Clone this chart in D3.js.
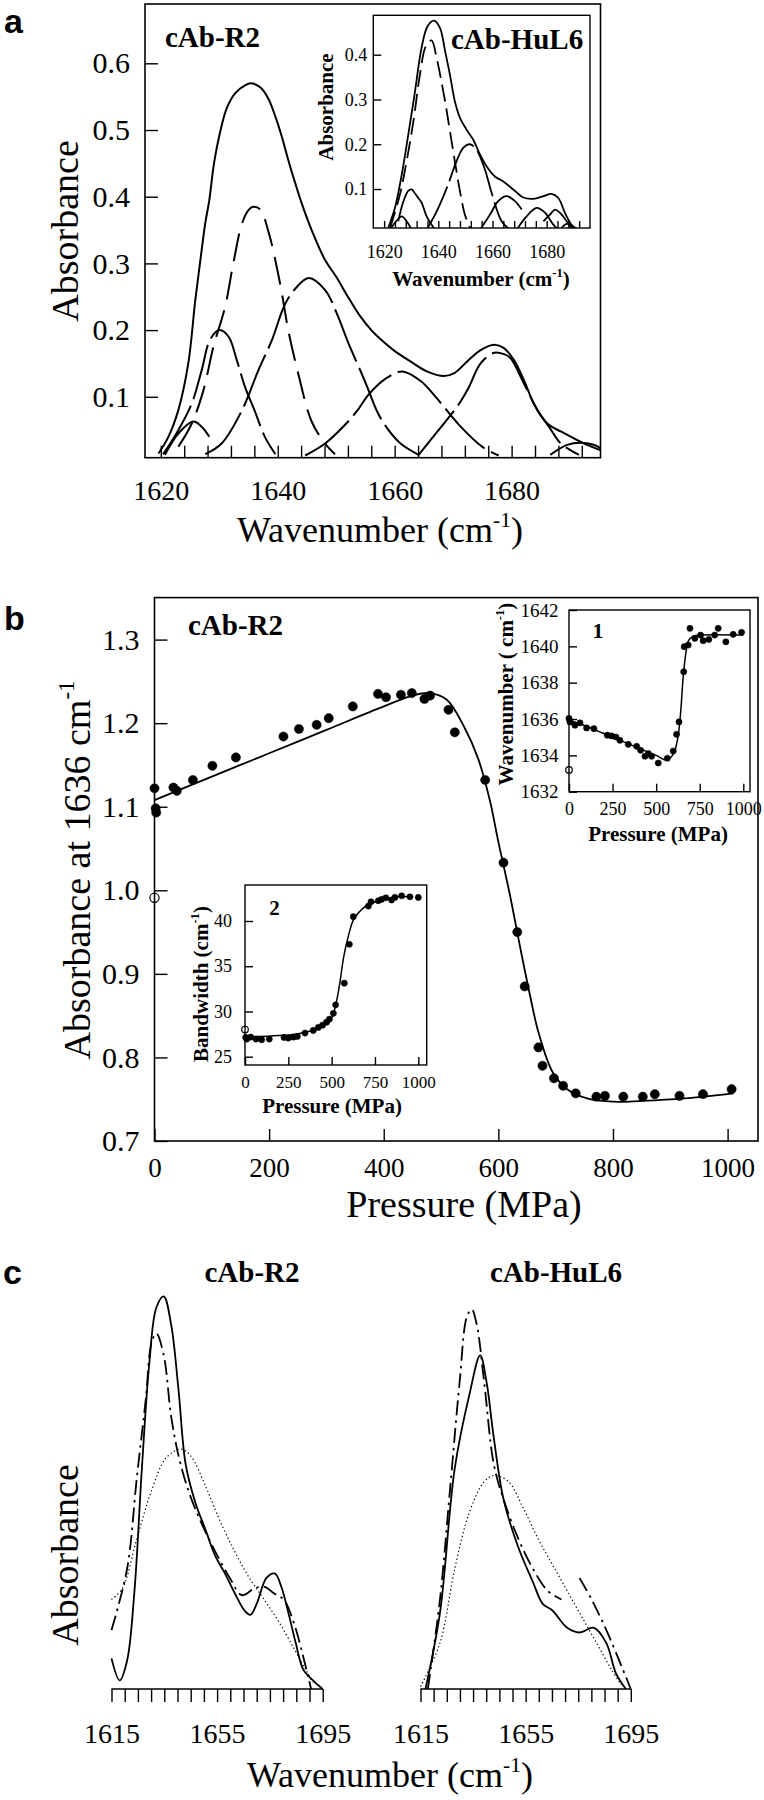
<!DOCTYPE html>
<html>
<head>
<meta charset="utf-8">
<script src="https://cdn.jsdelivr.net/npm/d3@7"></script>
<style>
  body { margin: 0; background: #fff; }
  text { font-family: "Liberation Serif", "Times New Roman", serif; fill: #000; }
</style>
</head>
<body>
<svg id="fig" width="764" height="1800"></svg>
<script>
// ---------- panel a : band fitting of cAb-R2 (main) and cAb-HuL6 (inset) ----------
var aTickLabels = [1620, 1640, 1660, 1680];
var aYTicks = [0.1, 0.2, 0.3, 0.4, 0.5, 0.6];
var aEnvelope = [[1619.6,0.015],[1621.3,0.040],[1623.0,0.080],[1624.7,0.150],[1625.9,0.245],[1626.7,0.300],
  [1627.6,0.360],[1628.3,0.395],[1629.1,0.450],[1630.1,0.495],[1631.3,0.533],[1632.7,0.555],[1634.4,0.567],
  [1635.45,0.570],[1637.0,0.564],[1638.4,0.547],[1639.6,0.520],[1640.7,0.490],[1641.8,0.455],[1643.0,0.420],
  [1644.1,0.390],[1645.8,0.350],[1648.1,0.305],[1650.0,0.280],[1652.0,0.250],[1654.0,0.222],[1656.0,0.200],
  [1657.5,0.187],[1659.8,0.170],[1662.7,0.153],[1665.5,0.138],[1668.4,0.131],[1670.1,0.135],[1672.4,0.153],
  [1674.7,0.170],[1677.0,0.178],[1678.7,0.173],[1680.4,0.155],[1682.1,0.125],[1683.8,0.090],[1686.1,0.060],
  [1688.4,0.048],[1690.6,0.038],[1692.9,0.028],[1695.2,0.020]];
var aBand1 = [[1620.7,0.013],[1623.0,0.045],[1625.6,0.063],[1627.0,0.055],[1628.3,0.040]];
var aBand2 = [[1620.4,0.014],[1623.0,0.050],[1625.3,0.090],[1627.0,0.140],[1628.4,0.185],[1630.0,0.200],
  [1631.6,0.190],[1633.0,0.155],[1634.4,0.115],[1636.1,0.078],[1637.8,0.040],[1639.6,0.014]];
var aBand3 = [[1623.0,0.025],[1625.3,0.060],[1627.3,0.110],[1629.0,0.175],[1631.0,0.235],[1632.4,0.300],
  [1633.9,0.360],[1635.0,0.380],[1635.8,0.385],[1637.0,0.381],[1638.4,0.348],[1640.4,0.270],[1641.8,0.200],
  [1643.5,0.135],[1645.8,0.063],[1648.1,0.030],[1649.8,0.014]];
var aBand4 = [[1627.6,0.014],[1630.4,0.030],[1633.9,0.080],[1636.7,0.140],[1639.0,0.185],[1641.3,0.240],
  [1643.3,0.265],[1645.3,0.278],[1648.1,0.260],[1650.1,0.225],[1652.1,0.180],[1654.1,0.140],[1655.3,0.115],
  [1657.0,0.078],[1658.7,0.053],[1661.0,0.030],[1664.1,0.013]];
var aBand5 = [[1644.7,0.012],[1648.1,0.030],[1651.5,0.058],[1653.5,0.078],[1655.5,0.103],[1658.4,0.127],
  [1661.3,0.138],[1664.4,0.124],[1667.0,0.100],[1671.0,0.058],[1675.0,0.025],[1677.8,0.012]];
var aBand6 = [[1664.1,0.013],[1667.5,0.050],[1670.9,0.088],[1672.6,0.113],[1674.7,0.150],[1677.0,0.166],
  [1678.7,0.164],[1679.8,0.158],[1682.1,0.120],[1684.4,0.080],[1686.4,0.055],[1688.4,0.030],[1691.5,0.013]];
var aBand7 = [[1686.6,0.013],[1689.5,0.028],[1691.8,0.031],[1694.0,0.028],[1695.2,0.023]];

var insTickLabels = [1620, 1640, 1660, 1680];
var insYTicks = [0.1, 0.2, 0.3, 0.4];
var insEnvelope = [[1621.5,0.013],[1624.0,0.058],[1626.5,0.132],[1628.9,0.221],[1631.4,0.318],[1633.8,0.415],
  [1636.0,0.463],[1638.4,0.476],[1640.6,0.460],[1642.5,0.408],[1644.3,0.355],[1646.1,0.296],[1648.0,0.259],
  [1650.5,0.232],[1652.9,0.210],[1655.4,0.177],[1657.8,0.151],[1660.9,0.128],[1664.0,0.117],[1667.7,0.099],
  [1671.4,0.081],[1675.1,0.078],[1678.8,0.084],[1681.8,0.089],[1684.3,0.080],[1686.8,0.046],[1689.2,0.020],
  [1691.1,0.011]];
var insBandA = [[1622.2,0.013],[1625.8,0.087],[1628.3,0.162],[1630.8,0.251],[1633.2,0.355],[1635.4,0.419],
  [1637.5,0.432],[1639.4,0.392],[1640.9,0.348],[1642.5,0.296],[1644.3,0.229],[1646.1,0.162],[1648.0,0.095],
  [1649.8,0.043],[1651.7,0.013]];
var insBandB = [[1635.7,0.009],[1639.4,0.050],[1643.1,0.102],[1647.0,0.166],[1649.2,0.192],[1651.7,0.200],
  [1654.1,0.188],[1656.6,0.154],[1657.8,0.132],[1659.7,0.091],[1663.4,0.028],[1666.4,0.009]];
var insBandC = [[1625.2,0.028],[1627.1,0.072],[1628.9,0.096],[1630.2,0.099],[1630.8,0.095],[1632.6,0.080],
  [1633.8,0.070],[1635.7,0.039],[1638.8,0.009]];
var insBandD = [[1622.2,0.009],[1623.4,0.020],[1626.5,0.039],[1628.3,0.028],[1630.2,0.009]];
var insBandE = [[1655.4,0.009],[1659.1,0.043],[1662.1,0.073],[1665.2,0.084],[1668.3,0.073],[1670.8,0.054]];
var insBandF = [[1668.9,0.009],[1672.6,0.039],[1676.3,0.058],[1679.4,0.047],[1682.4,0.021],[1684.3,0.009]];
var insBandG = [[1678.8,0.028],[1681.2,0.043],[1683.1,0.054],[1684.9,0.047],[1687.4,0.028],[1689.8,0.009]];
var insBandH = [[1685.5,0.013],[1687.4,0.022],[1689.2,0.017],[1691.1,0.009]];

// ---------- panel b : absorbance at 1636 cm-1 vs pressure ----------
var bXTicks = [0, 200, 400, 600, 800, 1000];
var bYTicks = [0.7, 0.8, 0.9, 1.0, 1.1, 1.2, 1.3];
var bDots = [[0,1.122],[2,1.098],[3,1.093],[33,1.123],[39,1.119],[67,1.132],[101,1.149],[142,1.159],
  [225,1.184],[252,1.193],[283,1.198],[304,1.206],[346,1.220],[390,1.235],[404,1.231],[430,1.234],
  [449,1.236],[471,1.229],[481,1.233],[513,1.216],[524,1.189],[577,1.132],[609,1.033],[633,0.950],
  [646,0.885],[670,0.812],[677,0.790],[697,0.775],[713,0.766],[735,0.757],[771,0.753],[786,0.754],
  [818,0.753],[852,0.753],[873,0.756],[916,0.754],[957,0.756],[1007,0.762]];
var bOpen = [[0,0.991]];
var bFit = [[0,1.108],[100,1.136],[200,1.164],[300,1.192],[400,1.220],[450,1.233],[480,1.236],[510,1.228],
  [540,1.196],[565,1.157],[585,1.108],[600,1.058],[620,0.995],[640,0.925],[655,0.875],[670,0.830],
  [695,0.782],[720,0.762],[755,0.751],[800,0.747],[850,0.748],[925,0.751],[1010,0.757]];

// inset 1 : band position
var i1XTicks = [0, 250, 500, 750, 1000];
var i1YTicks = [1632, 1634, 1636, 1638, 1640, 1642];
var i1Dots = [[0,1636.03],[5,1635.84],[34,1635.66],[63,1635.79],[101,1635.51],[143,1635.47],[220,1635.11],
  [244,1635.07],[269,1635.01],[292,1634.83],[340,1634.61],[388,1634.50],[411,1634.28],[436,1633.95],
  [455,1634.10],[474,1633.95],[512,1633.58],[564,1633.84],[598,1634.24],[617,1635.16],[631,1635.84],
  [658,1638.60],[661,1639.98],[684,1640.07],[694,1640.99],[722,1640.44],[755,1640.62],[770,1640.31],
  [802,1640.38],[836,1640.62],[856,1640.99],[900,1640.25],[942,1640.66],[990,1640.77]];
var i1Open = [[0,1633.2]];
var i1Fit = [[0,1635.95],[100,1635.6],[200,1635.2],[300,1634.8],[400,1634.4],[500,1634.0],[560,1633.75],
  [600,1634.1],[625,1635.0],[640,1636.3],[655,1638.3],[670,1639.6],[685,1640.3],[710,1640.55],
  [750,1640.62],[1000,1640.62]];

// inset 2 : bandwidth
var i2XTicks = [0, 250, 500, 750, 1000];
var i2YTicks = [25, 30, 35, 40];
var i2Dots = [[4,27.13],[10,26.95],[33,27.17],[63,26.95],[96,26.88],[140,26.95],[225,27.13],[250,27.06],
  [279,27.17],[302,27.24],[346,27.61],[394,27.90],[423,28.24],[448,28.49],[471,28.82],[487,29.15],
  [510,29.80],[523,30.73],[573,33.13],[602,37.43],[625,40.48],[712,41.65],[727,42.13],[769,42.24],
  [788,42.39],[813,42.57],[846,42.32],[865,42.61],[904,42.79],[952,42.68],[1000,42.61]];
var i2Open = [[0,28.0]];
var i2Fit = [[0,27.2],[150,27.3],[300,27.5],[450,28.35],[500,29.3],[530,31.3],[550,33.5],[570,36.1],
  [600,38.6],[625,40.1],[680,41.4],[750,42.1],[850,42.6],[950,42.7]];

// ---------- panel c : deconvolved spectra ----------
var cTickLabels = [1615, 1655, 1695];
var cR2Solid = [[1615,0.078],[1618.1,0.022],[1620.9,0.072],[1623.7,0.25],[1626.5,0.561],[1629.3,0.828],
  [1632.0,0.972],[1634.8,1.0],[1637.6,0.928],[1640.4,0.761],[1643.1,0.572],[1646.9,0.472],[1650.6,0.406],
  [1654.3,0.339],[1658.0,0.294],[1661.7,0.244],[1665.4,0.200],[1667.6,0.189],[1670.0,0.217],[1673.7,0.283],
  [1676.9,0.294],[1679.3,0.261],[1682.0,0.194],[1684.8,0.117],[1687.6,0.050],[1691.3,0.022],[1695,0.0]];
var cR2DashDot = [[1615,0.150],[1620.9,0.306],[1624.6,0.539],[1628.0,0.739],[1630.2,0.883],[1632.0,0.906],
  [1634.8,0.850],[1637.6,0.694],[1640.4,0.594],[1644.1,0.506],[1648.7,0.428],[1654.3,0.350],[1659.8,0.283],
  [1664.4,0.239],[1669.1,0.256],[1672.8,0.261],[1676.5,0.244],[1680.2,0.228],[1683.9,0.172],[1687.6,0.083],
  [1690.6,0.0]];
var cR2Dotted = [[1615,0.228],[1619.1,0.256],[1624.6,0.383],[1630.2,0.506],[1635.7,0.589],[1641.3,0.611],
  [1645.0,0.594],[1650.6,0.517],[1656.1,0.428],[1661.7,0.350],[1667.2,0.283],[1672.8,0.228],[1678.3,0.172],
  [1683.9,0.106],[1688.5,0.050],[1691.3,0.017]];
var cHuSolid = [[1616.9,0.0],[1622.4,0.194],[1628.0,0.561],[1633.6,0.750],[1637.7,0.850],[1640.1,0.783],
  [1642.9,0.639],[1646.6,0.483],[1652.2,0.361],[1657.8,0.272],[1661.5,0.217],[1665.2,0.200],[1670.8,0.156],
  [1675.5,0.144],[1681.0,0.156],[1685.7,0.117],[1689.4,0.039],[1693.1,0.0]];
var cHuDashDot = [[1617.8,0.0],[1622.4,0.228],[1626.2,0.506],[1629.9,0.783],[1632.7,0.950],[1634.5,0.967],
  [1636.4,0.928],[1639.2,0.783],[1642.9,0.572],[1646.6,0.483],[1652.2,0.383],[1657.8,0.306],[1663.4,0.250],
  [1668.6,0.228],null,[1675.5,0.283],[1680.1,0.228],[1685.7,0.150],[1691.3,0.061],[1695,0.0]];
var cHuDotted = [[1615,0.006],[1622.4,0.117],[1628.0,0.306],[1633.6,0.450],[1639.2,0.528],[1642.9,0.544],
  [1648.5,0.528],[1654.1,0.461],[1659.7,0.383],[1665.2,0.317],[1670.8,0.250],[1676.4,0.183],[1682.0,0.117],
  [1687.6,0.050],[1691.3,0.011]];

var svg = d3.select("#fig");
var SERIF = "'Liberation Serif', 'Times New Roman', serif";

// ---------- helpers ----------
function label(g, x, y, parts, size, o) {
  o = o || {};
  var t = g.append("text")
    .attr("transform", "translate(" + x + "," + y + ")" + (o.rot ? " rotate(-90)" : ""))
    .attr("text-anchor", o.anchor || "middle")
    .attr("font-size", size)
    .attr("font-weight", o.bold ? "bold" : null)
    .style("font-family", o.sans ? "'Liberation Sans', Arial, sans-serif" : SERIF);
  var up = false;
  parts.forEach(function(p) {
    var sup = Array.isArray(p);
    var s = t.append("tspan").text(sup ? p[0] : p);
    if (sup) { s.attr("font-size", size * 0.6).attr("dy", -size * 0.42); up = true; }
    else if (up) { s.attr("dy", size * 0.42); up = false; }
  });
  return t;
}

function box(g, x0, y0, x1, y1, w) {
  g.append("rect").attr("x", x0).attr("y", y0).attr("width", x1 - x0).attr("height", y1 - y0)
    .attr("fill", "none").attr("stroke", "#000").attr("stroke-width", w || 1.6);
}

function styleAxis(a, size) {
  a.select(".domain").remove();
  a.selectAll(".tick line").attr("stroke", "#000").attr("stroke-width", 1.4);
  a.selectAll(".tick text").style("font-family", SERIF).style("font-size", size + "px").attr("fill", "#000");
}

var clipN = 0;
function clipTo(g, x0, y0, x1, y1) {
  var id = "clip" + (clipN++);
  svg.append("clipPath").attr("id", id).append("rect")
    .attr("x", x0).attr("y", y0).attr("width", x1 - x0).attr("height", y1 - y0);
  return g.append("g").attr("clip-path", "url(#" + id + ")");
}

function curve(g, data, xs, ys, dash, w) {
  var line = d3.line()
    .defined(function(d) { return d !== null; })
    .x(function(d) { return xs(d[0]); })
    .y(function(d) { return ys(d[1]); })
    .curve(d3.curveCatmullRom.alpha(0.5));
  g.append("path").attr("d", line(data)).attr("fill", "none").attr("stroke", "#000")
    .attr("stroke-width", w || 2).attr("stroke-dasharray", dash || null)
    .attr("stroke-linejoin", "round");
}

function dots(g, data, xs, ys, r, open) {
  g.selectAll(null).data(data).enter().append("circle")
    .attr("cx", function(d) { return xs(d[0]); })
    .attr("cy", function(d) { return ys(d[1]); })
    .attr("r", r)
    .attr("fill", open ? "#fff" : "#000")
    .attr("stroke", "#000").attr("stroke-width", open ? 1.2 : 0.5);
}

var fmtInt = d3.format("d"), fmt1 = d3.format(".1f");

// ================= panel a =================
var ax = d3.scaleLinear().domain([1617.3, 1695.2]).range([145, 600.5]);
var ay = d3.scaleLinear().domain([0, 0.6]).range([463.5, 63.3]);
var aT = 4, aB = 457.7;

var aClip = clipTo(svg, 145, aT, 600.5, aB);
[aBand1, aBand7].forEach(function(b) { curve(aClip, b, ax, ay); });
[aBand2, aBand4, aBand5, aBand6].forEach(function(b) { curve(aClip, b, ax, ay, "56,7"); });
curve(aClip, aBand3, ax, ay, "28,11");
curve(aClip, aEnvelope, ax, ay);

var aXA = svg.append("g").attr("transform", "translate(0," + aB + ")")
  .call(d3.axisBottom(ax).tickValues(d3.range(1620, 1695, 4)).tickSizeInner(-12).tickSizeOuter(0).tickPadding(22)
    .tickFormat(function(d) { return aTickLabels.indexOf(d) >= 0 ? fmtInt(d) : ""; }));
styleAxis(aXA, 28);
var aYA = svg.append("g").attr("transform", "translate(145,0)")
  .call(d3.axisLeft(ay).tickValues(aYTicks).tickSizeInner(-13).tickSizeOuter(0).tickPadding(15).tickFormat(fmt1));
styleAxis(aYA, 30);
box(svg, 145, aT, 600.5, aB);

label(svg, 78, 231, ["Absorbance"], 38, { rot: true });
label(svg, 380, 542, ["Wavenumber (cm", ["-1"], ")"], 36);
label(svg, 165, 47, ["cAb-R2"], 29, { anchor: "start", bold: true });
label(svg, 4, 33, ["a"], 34, { anchor: "start", bold: true, sans: true });

// inset of panel a
var iax = d3.scaleLinear().domain([1616, 1696]).range([373.3, 590]);
var iay = d3.scaleLinear().domain([0, 0.4]).range([233.8, 54.7]);
var iT = 15.3, iB = 228;
svg.append("rect").attr("x", 373.3).attr("y", iT).attr("width", 590 - 373.3).attr("height", iB - iT).attr("fill", "#fff");
var iClip = clipTo(svg, 373.3, iT, 590, iB);
[insBandC, insBandD, insBandE, insBandF, insBandG, insBandH].forEach(function(b) { curve(iClip, b, iax, iay, null, 1.8); });
curve(iClip, insBandB, iax, iay, "48,6", 1.8);
curve(iClip, insBandA, iax, iay, "17,7", 1.8);
curve(iClip, insEnvelope, iax, iay, null, 1.8);
var iXA = svg.append("g").attr("transform", "translate(0," + iB + ")")
  .call(d3.axisBottom(iax).tickValues(d3.range(1620, 1696, 4)).tickSizeInner(-7).tickSizeOuter(0).tickPadding(17)
    .tickFormat(function(d) { return insTickLabels.indexOf(d) >= 0 ? fmtInt(d) : ""; }));
styleAxis(iXA, 18);
var iYA = svg.append("g").attr("transform", "translate(373.3,0)")
  .call(d3.axisLeft(iay).tickValues(insYTicks).tickSizeInner(-8).tickSizeOuter(0).tickPadding(6).tickFormat(fmt1));
styleAxis(iYA, 18);
box(svg, 373.3, iT, 590, iB, 1.4);
label(svg, 333, 107, ["Absorbance"], 21, { rot: true, bold: true });
label(svg, 481, 286, ["Wavenumber  (cm", ["-1"], ")"], 21, { bold: true });
label(svg, 451, 49, ["cAb-HuL6"], 29, { anchor: "start", bold: true });

// ================= panel b =================
var bx = d3.scaleLinear().domain([0, 1000]).range([154.5, 727.6]);
var by = d3.scaleLinear().domain([0.7, 1.3]).range([1141, 639.6]);
var bL = 154.5, bR = 758, bT = 597.6, bB = 1141;

curve(svg, bFit, bx, by, null, 1.8);
dots(svg, bDots, bx, by, 4.6);
dots(svg, bOpen, bx, by, 4.6, true);

var bXA = svg.append("g").attr("transform", "translate(0," + bB + ")")
  .call(d3.axisBottom(bx).tickValues(bXTicks).tickSizeInner(-12).tickSizeOuter(0).tickPadding(17).tickFormat(fmtInt));
styleAxis(bXA, 27);
var bYA = svg.append("g").attr("transform", "translate(" + bL + ",0)")
  .call(d3.axisLeft(by).tickValues(bYTicks).tickSizeInner(-13).tickSizeOuter(0).tickPadding(15).tickFormat(fmt1));
styleAxis(bYA, 30);
box(svg, bL, bT, bR, bB);

label(svg, 90, 870, ["Absorbance at 1636 cm", ["-1"]], 38, { rot: true });
label(svg, 464, 1217, ["Pressure (MPa)"], 38);
label(svg, 188, 635, ["cAb-R2"], 29, { anchor: "start", bold: true });
label(svg, 4, 630, ["b"], 34, { anchor: "start", bold: true, sans: true });

// inset 1
var i1x = d3.scaleLinear().domain([0, 1000]).range([569, 743.3]);
var i1y = d3.scaleLinear().domain([1632, 1642]).range([791.7, 610]);
curve(svg, i1Fit, i1x, i1y, null, 1.5);
dots(svg, i1Dots, i1x, i1y, 3.1);
dots(svg, i1Open, i1x, i1y, 3.3, true);
var i1XA = svg.append("g").attr("transform", "translate(0,791.7)")
  .call(d3.axisBottom(i1x).tickValues(i1XTicks).tickSizeInner(-8).tickSizeOuter(0).tickPadding(11).tickFormat(fmtInt));
styleAxis(i1XA, 18);
var i1YA = svg.append("g").attr("transform", "translate(569,0)")
  .call(d3.axisLeft(i1y).tickValues(i1YTicks).tickSizeInner(-8).tickSizeOuter(0).tickPadding(10.5).tickFormat(fmtInt));
styleAxis(i1YA, 19);
box(svg, 569, 610, 750, 791.7, 1.4);
label(svg, 513, 694, ["Wavenumber ( cm", ["-1"], ")"], 21, { rot: true, bold: true });
label(svg, 658, 841, ["Pressure (MPa)"], 21, { bold: true });
label(svg, 598, 638, ["1"], 22, { bold: true });

// inset 2
var i2x = d3.scaleLinear().domain([0, 1000]).range([245, 418.3]);
var i2y = d3.scaleLinear().domain([25, 40]).range([1056.7, 921]);
curve(svg, i2Fit, i2x, i2y, null, 1.5);
dots(svg, i2Dots, i2x, i2y, 3.1);
dots(svg, i2Open, i2x, i2y, 3.3, true);
var i2XA = svg.append("g").attr("transform", "translate(0,1065)")
  .call(d3.axisBottom(i2x).tickValues(i2XTicks).tickSizeInner(-8).tickSizeOuter(0).tickPadding(11).tickFormat(fmtInt));
styleAxis(i2XA, 17);
var i2YA = svg.append("g").attr("transform", "translate(245,0)")
  .call(d3.axisLeft(i2y).tickValues(i2YTicks).tickSizeInner(-8).tickSizeOuter(0).tickPadding(13).tickFormat(fmtInt));
styleAxis(i2YA, 18);
box(svg, 245, 885, 426.7, 1065, 1.4);
label(svg, 208, 984, ["Bandwidth (cm", ["-1"], ")"], 21, { rot: true, bold: true });
label(svg, 332, 1113, ["Pressure (MPa)"], 21, { bold: true });
label(svg, 274.5, 915, ["2"], 21, { bold: true });

// ================= panel c =================
var cy = d3.scaleLinear().domain([0, 1]).range([1689, 1296.5]);
var cxL = d3.scaleLinear().domain([1615, 1695]).range([111.5, 322.7]);
var cxR = d3.scaleLinear().domain([1615, 1695]).range([420.5, 630.8]);

[[cxL, cR2Solid, cR2DashDot, cR2Dotted], [cxR, cHuSolid, cHuDashDot, cHuDotted]].forEach(function(s) {
  var xs = s[0];
  curve(svg, s[3], xs, cy, "1.3,2.6", 1.2);
  curve(svg, s[2], xs, cy, "15,5,2.5,5", 1.8);
  curve(svg, s[1], xs, cy, null, 1.8);
  var a = svg.append("g").attr("transform", "translate(0,1689)")
    .call(d3.axisBottom(xs).tickValues(d3.range(1615, 1696, 5)).tickSizeInner(13).tickSizeOuter(0).tickPadding(21)
      .tickFormat(function(d) { return cTickLabels.indexOf(d) >= 0 ? fmtInt(d) : ""; }));
  styleAxis(a, 28);
  svg.append("line").attr("x1", xs.range()[0]).attr("x2", xs.range()[1]).attr("y1", 1689).attr("y2", 1689)
    .attr("stroke", "#000").attr("stroke-width", 1.6);
});

label(svg, 78, 1555, ["Absorbance"], 38, { rot: true });
label(svg, 390, 1787, ["Wavenumber (cm", ["-1"], ")"], 36);
label(svg, 252, 1282, ["cAb-R2"], 29, { bold: true });
label(svg, 556, 1282, ["cAb-HuL6"], 29, { bold: true });
label(svg, 3, 1284, ["c"], 34, { anchor: "start", bold: true, sans: true });
</script>
</body>
</html>
